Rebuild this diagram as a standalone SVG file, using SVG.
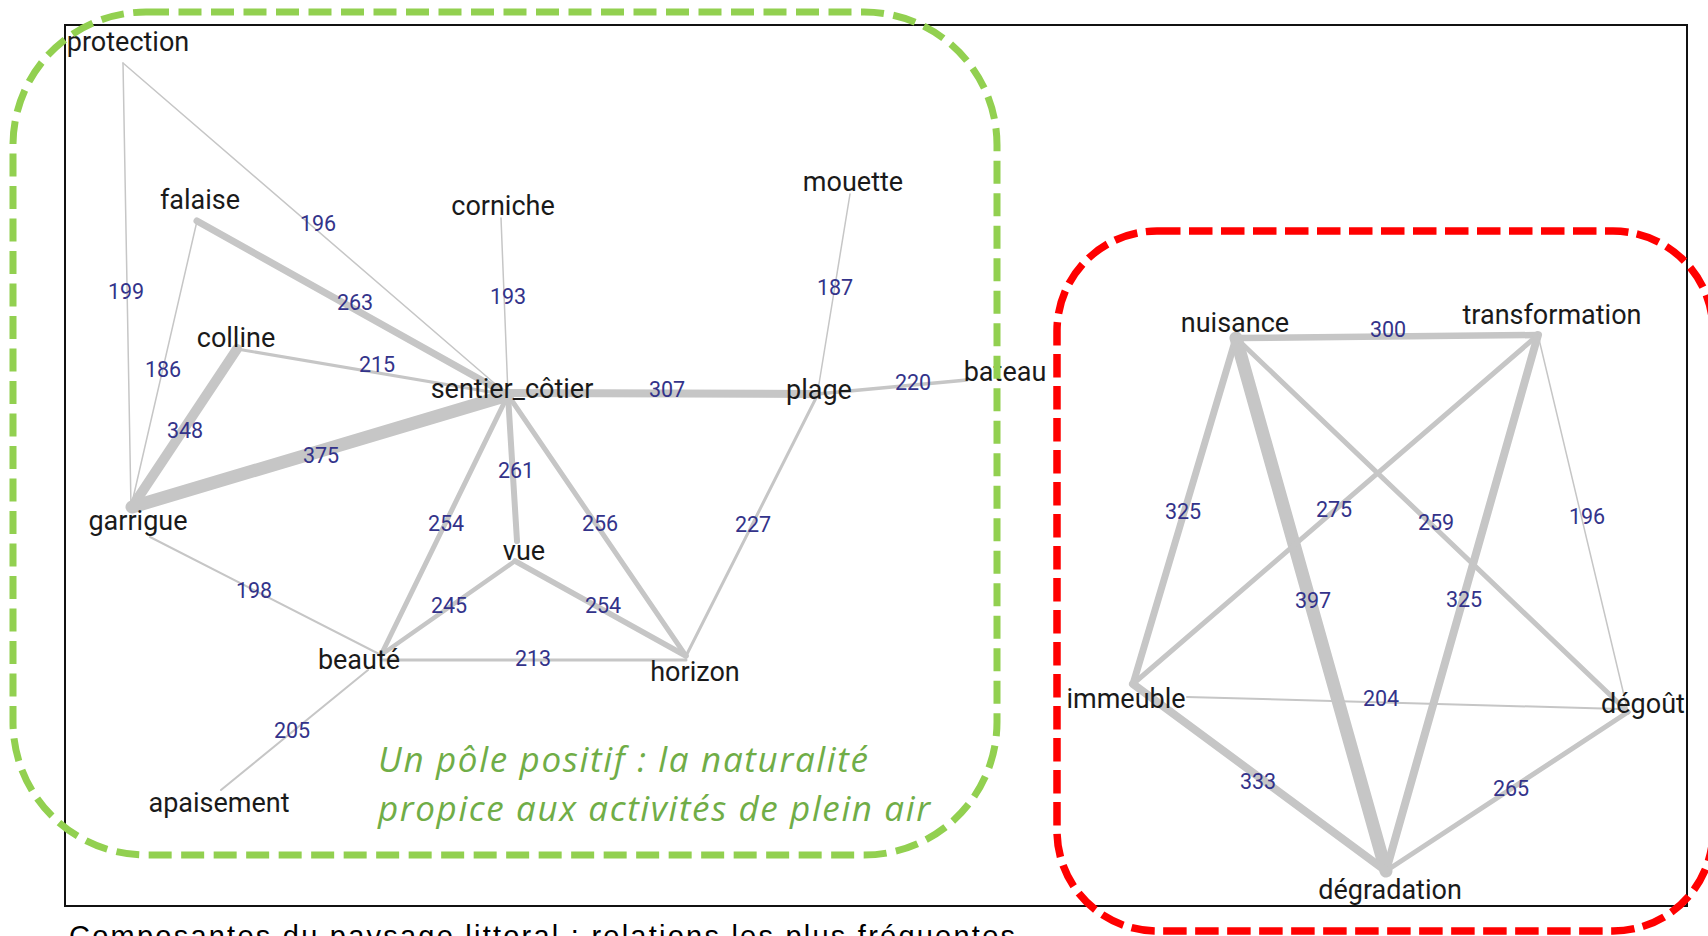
<svg xmlns="http://www.w3.org/2000/svg" width="1708" height="936" viewBox="0 0 1708 936">
<style>
.e{stroke:#c6c6c6;stroke-linecap:round;fill:none}
.n{font-family:Roboto,"Liberation Sans",sans-serif;font-size:27px;fill:#1a1a1a;text-anchor:middle}
.w{font-family:Roboto,"Liberation Sans",sans-serif;font-size:21.5px;fill:#33338a;text-anchor:middle}
.pos{font-family:"Open Sans","Liberation Sans",sans-serif;font-style:italic;font-size:35px;fill:#70ad47}
.cap{font-family:"Liberation Sans",Arial,sans-serif;font-size:29px;fill:#000}
</style>
<rect width="1708" height="936" fill="#fff"/>
<rect id="frame" x="65" y="25" width="1622" height="881" fill="none" stroke="#111" stroke-width="2"/>
<g id="connectors">
<line class="e" x1="123" y1="63" x2="131" y2="507" stroke-width="1.5"/>
<line class="e" x1="123" y1="63" x2="508" y2="395" stroke-width="1.5"/>
<line class="e" x1="197" y1="221" x2="508" y2="395" stroke-width="7"/>
<line class="e" x1="197" y1="221" x2="131" y2="507" stroke-width="1.5"/>
<line class="e" x1="237" y1="349" x2="508" y2="395" stroke-width="3"/>
<line class="e" x1="237" y1="349" x2="132" y2="507" stroke-width="10"/>
<line class="e" x1="132" y1="507" x2="508" y2="395" stroke-width="13"/>
<line class="e" x1="501" y1="218" x2="508" y2="395" stroke-width="1.5"/>
<line class="e" x1="508" y1="393" x2="817" y2="394" stroke-width="8"/>
<line class="e" x1="817" y1="394" x2="967" y2="380" stroke-width="3.5"/>
<line class="e" x1="850" y1="194" x2="817" y2="396" stroke-width="1.5"/>
<line class="e" x1="817" y1="396" x2="686" y2="656" stroke-width="3"/>
<line class="e" x1="508" y1="395" x2="517" y2="541" stroke-width="6"/>
<line class="e" x1="508" y1="395" x2="381" y2="655" stroke-width="5"/>
<line class="e" x1="508" y1="395" x2="686" y2="656" stroke-width="5"/>
<line class="e" x1="515" y1="561" x2="381" y2="655" stroke-width="4.5"/>
<line class="e" x1="515" y1="561" x2="686" y2="656" stroke-width="5.5"/>
<line class="e" x1="381" y1="660" x2="686" y2="660" stroke-width="3"/>
<line class="e" x1="150" y1="537" x2="381" y2="655" stroke-width="2"/>
<line class="e" x1="368" y1="670" x2="221" y2="790" stroke-width="2"/>
<line class="e" x1="1236" y1="338" x2="1538" y2="335" stroke-width="6.5"/>
<line class="e" x1="1236" y1="338" x2="1133" y2="684" stroke-width="7"/>
<line class="e" x1="1236" y1="338" x2="1386" y2="871" stroke-width="13"/>
<line class="e" x1="1236" y1="338" x2="1628" y2="712" stroke-width="5"/>
<line class="e" x1="1538" y1="335" x2="1133" y2="684" stroke-width="5"/>
<line class="e" x1="1538" y1="335" x2="1386" y2="871" stroke-width="8"/>
<line class="e" x1="1538" y1="335" x2="1628" y2="712" stroke-width="1.5"/>
<line class="e" x1="1187" y1="697" x2="1620" y2="709" stroke-width="2"/>
<line class="e" x1="1133" y1="684" x2="1386" y2="871" stroke-width="8"/>
<line class="e" x1="1386" y1="871" x2="1628" y2="712" stroke-width="5"/>
<text class="w" x="126" y="299">199</text>
<text class="w" x="318" y="231">196</text>
<text class="w" x="355" y="310">263</text>
<text class="w" x="163" y="377">186</text>
<text class="w" x="377" y="372">215</text>
<text class="w" x="185" y="438">348</text>
<text class="w" x="321" y="463">375</text>
<text class="w" x="508" y="304">193</text>
<text class="w" x="667" y="397">307</text>
<text class="w" x="913" y="390">220</text>
<text class="w" x="835" y="295">187</text>
<text class="w" x="753" y="532">227</text>
<text class="w" x="516" y="478">261</text>
<text class="w" x="446" y="531">254</text>
<text class="w" x="600" y="531">256</text>
<text class="w" x="449" y="613">245</text>
<text class="w" x="603" y="613">254</text>
<text class="w" x="533" y="666">213</text>
<text class="w" x="254" y="598">198</text>
<text class="w" x="292" y="738">205</text>
<text class="w" x="1388" y="337">300</text>
<text class="w" x="1183" y="519">325</text>
<text class="w" x="1334" y="517">275</text>
<text class="w" x="1436" y="530">259</text>
<text class="w" x="1587" y="524">196</text>
<text class="w" x="1313" y="608">397</text>
<text class="w" x="1464" y="607">325</text>
<text class="w" x="1381" y="706">204</text>
<text class="w" x="1258" y="789">333</text>
<text class="w" x="1511" y="796">265</text>
</g>
<g id="node-protection"><text class="n" x="128" y="51">protection</text></g>
<g id="node-falaise"><text class="n" x="200" y="209">falaise</text></g>
<g id="node-corniche"><text class="n" x="503" y="215">corniche</text></g>
<g id="node-colline"><text class="n" x="236" y="347">colline</text></g>
<g id="node-sentier_cotier"><text class="n" x="512" y="398">sentier_côtier</text></g>
<g id="node-plage"><text class="n" x="819" y="399">plage</text></g>
<g id="node-bateau"><text class="n" x="1005" y="381">bateau</text></g>
<g id="node-mouette"><text class="n" x="853" y="191">mouette</text></g>
<g id="node-garrigue"><text class="n" x="138" y="530">garrigue</text></g>
<g id="node-vue"><text class="n" x="524" y="560">vue</text></g>
<g id="node-beaute"><text class="n" x="359" y="669">beauté</text></g>
<g id="node-horizon"><text class="n" x="695" y="681">horizon</text></g>
<g id="node-apaisement"><text class="n" x="219" y="812">apaisement</text></g>
<g id="node-nuisance"><text class="n" x="1235" y="332">nuisance</text></g>
<g id="node-transformation"><text class="n" x="1552" y="324">transformation</text></g>
<g id="node-immeuble"><text class="n" x="1126" y="708">immeuble</text></g>
<g id="node-degout"><text class="n" x="1643" y="713">dégoût</text></g>
<g id="node-degradation"><text class="n" x="1390" y="899">dégradation</text></g>
<g id="pole-positif">
<rect x="13" y="12" width="984" height="843" rx="133" fill="none" stroke="#92d050" stroke-width="7" stroke-dasharray="23 9.5"/>
<text class="pos" x="378" y="772" textLength="490" lengthAdjust="spacing">Un pôle positif : la naturalité</text>
<text class="pos" x="378" y="821" textLength="552" lengthAdjust="spacing">propice aux activités de plein air</text>
</g>
<g id="pole-negatif">
<rect x="1057" y="231" width="656" height="700" rx="100" fill="none" stroke="#ff0000" stroke-width="7.5" stroke-dasharray="23.5 8.5"/>
</g>
<text class="cap" x="69" y="946" textLength="946" lengthAdjust="spacing">Composantes du paysage littoral : relations les plus fréquentes</text>
</svg>
